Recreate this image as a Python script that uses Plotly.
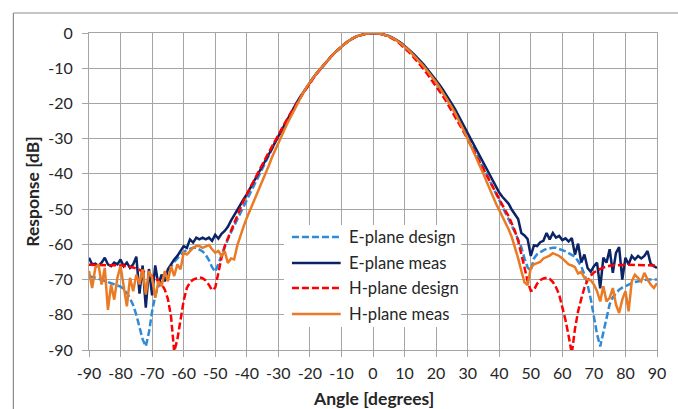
import plotly.graph_objects as go

# Angles in degrees, 1-degree steps
angles = list(range(-90, 91))

e_plane_design = [
    -69.0, -69.2, -69.5, -69.8, -70.1, -70.4, -70.7, -71.0, -71.3, -71.6,
    -72.0, -72.7, -73.8, -75.3, -77.3, -80.0, -83.5, -87.0, -89.0, -85.0,
    -79.0, -74.5, -72.0, -70.0, -68.8, -67.5, -66.2, -65.0, -64.0, -63.0,
    -62.2, -61.6, -61.2, -61.0, -61.0, -61.4, -62.0, -63.0, -64.5, -66.5,
    -67.8, -65.5, -63.0, -60.8, -58.6, -56.6, -54.7, -52.9, -51.1, -49.3,
    -47.5, -45.6, -43.8, -42.0, -40.1, -38.3, -36.5, -34.7, -32.9, -31.1,
    -29.3, -27.6, -25.9, -24.2, -22.6, -21.0, -19.5, -18.1, -16.7, -15.3,
    -14.0, -12.8, -11.6, -10.5, -9.4, -8.3, -7.3, -6.4, -5.5, -4.6,
    -3.8, -3.1, -2.4, -1.8, -1.3, -0.9, -0.58, -0.33, -0.15, -0.04,
    0.0,
    -0.04, -0.15, -0.33, -0.58, -0.9, -1.3, -1.8, -2.4, -3.1, -3.8,
    -4.6, -5.5, -6.4, -7.3, -8.3, -9.4, -10.5, -11.6, -12.8, -14.0,
    -15.3, -16.7, -18.1, -19.5, -21.0, -22.6, -24.2, -25.9, -27.6, -29.3,
    -31.1, -32.9, -34.7, -36.5, -38.3, -40.1, -42.0, -43.8, -45.6, -47.5,
    -49.3, -51.1, -52.9, -54.7, -56.6, -58.6, -60.8, -64.0, -66.5, -67.5,
    -64.0, -62.8, -62.2, -61.7, -61.3, -61.1, -61.0, -61.0, -61.3, -61.7,
    -62.0, -62.5, -63.0, -63.5, -64.8, -66.3, -68.5, -71.5, -75.5, -80.5,
    -85.5, -89.0, -85.0, -80.5, -77.0, -75.0, -73.8, -72.9, -72.3, -71.8,
    -71.4, -71.0, -70.7, -70.5, -70.3, -70.1, -70.0, -70.0, -70.0, -70.0,
]

e_plane_meas = [
    -63.8, -65.7, -65.5, -66.2, -65.2, -63.8, -65.7, -66.2, -65.2, -65.7,
    -64.3, -66.2, -65.2, -66.7, -65.7, -63.5, -74.0, -66.0, -78.0, -67.0,
    -74.5, -66.0, -71.5, -68.6, -70.5, -67.1, -65.7, -64.3, -63.3, -61.9,
    -60.5, -61.0, -58.6, -59.5, -58.1, -58.6, -58.1, -58.6, -58.1, -59.0,
    -57.3, -58.4, -57.0, -56.2, -55.0, -53.3, -51.7, -50.0, -48.6, -47.2,
    -45.8, -44.2, -42.6, -41.0, -39.4, -37.9, -36.2, -34.5, -32.8, -31.0,
    -29.3, -27.6, -25.9, -24.2, -22.6, -21.0, -19.5, -18.1, -16.7, -15.3,
    -14.0, -12.8, -11.6, -10.5, -9.4, -8.3, -7.3, -6.4, -5.5, -4.6,
    -3.8, -3.1, -2.4, -1.8, -1.3, -0.9, -0.58, -0.33, -0.15, -0.04,
    0.0,
    -0.04, -0.14, -0.31, -0.55, -0.86, -1.24, -1.7, -2.25, -2.9, -3.6,
    -4.4, -5.2, -6.1, -7.0, -7.9, -8.9, -10.0, -11.1, -12.2, -13.4,
    -14.6, -15.9, -17.2, -18.6, -20.1, -21.6, -23.2, -24.8, -26.5, -28.4,
    -30.1, -31.8, -33.5, -35.2, -37.0, -38.7, -40.4, -42.0, -43.7, -45.3,
    -46.5, -47.5, -48.5, -50.2, -51.5, -52.8, -56.8, -57.5, -58.5, -63.3,
    -60.3, -60.5, -59.4, -59.0, -56.8, -58.6, -56.8, -58.1, -57.6, -58.8,
    -58.3, -59.2, -58.2, -62.9, -59.8, -65.2, -62.9, -66.7, -67.8, -66.2,
    -65.2, -72.5, -63.8, -65.2, -61.4, -68.1, -62.4, -60.8, -70.0, -63.8,
    -65.7, -63.3, -64.3, -63.3, -64.0, -63.3, -61.9, -65.5, -66.2, -66.7,
]

h_plane_design = [
    -65.8, -65.8, -65.8, -65.8, -65.8, -65.9, -65.9, -65.9, -66.0, -66.0,
    -66.0, -66.1, -66.2, -66.4, -66.6, -66.9, -67.2, -67.6, -68.0, -68.5,
    -69.0, -69.6, -70.3, -71.3, -72.8, -75.5, -80.5, -90.5, -87.0, -81.0,
    -76.0, -72.4, -70.8, -70.0, -69.6, -69.4, -69.6, -70.3, -71.5, -73.0,
    -72.3, -68.0, -63.8, -60.5, -58.3, -56.0, -53.7, -51.5, -49.5, -47.6,
    -45.8, -44.0, -42.3, -40.6, -38.9, -37.2, -35.5, -33.8, -32.1, -30.5,
    -28.9, -27.3, -25.7, -24.1, -22.6, -21.1, -19.7, -18.3, -16.9, -15.6,
    -14.2, -12.9, -11.7, -10.6, -9.5, -8.4, -7.4, -6.4, -5.5, -4.6,
    -3.8, -3.1, -2.4, -1.8, -1.3, -0.9, -0.58, -0.33, -0.15, -0.04,
    0.0,
    -0.04, -0.16, -0.36, -0.64, -1.0, -1.45, -2.0, -2.65, -3.4, -4.2,
    -5.1, -6.0, -7.0, -8.0, -9.1, -10.2, -11.4, -12.6, -13.8, -15.0,
    -16.3, -17.7, -19.1, -20.6, -22.1, -23.6, -25.2, -26.8, -28.5, -30.2,
    -31.9, -33.6, -35.3, -37.0, -38.7, -40.5, -42.3, -44.1, -45.8, -47.5,
    -49.0, -50.5, -52.0, -54.0, -56.3, -59.0, -62.5, -66.5, -70.5, -73.2,
    -73.0, -71.2, -70.2, -69.7, -69.5, -69.8, -70.7, -72.2, -74.3, -77.5,
    -81.5, -86.0, -91.0, -84.0, -79.0, -75.5, -72.3, -70.2, -68.9, -68.0,
    -67.4, -67.0, -66.6, -66.3, -66.1, -66.0, -65.9, -65.8, -65.8, -65.8,
    -65.8, -65.8, -65.8, -65.8, -65.8, -65.9, -65.9, -66.0, -66.0, -66.1,
]

h_plane_meas = [
    -67.6, -72.4, -66.7, -65.7, -71.4, -66.7, -78.6, -71.4, -75.7, -69.5,
    -66.2, -72.4, -77.6, -69.5, -73.3, -68.6, -71.4, -67.1, -74.3, -67.6,
    -69.5, -75.2, -70.5, -71.9, -67.6, -70.5, -66.2, -69.0, -65.7, -67.1,
    -62.4, -62.9, -61.9, -61.0, -60.5, -60.5, -61.0, -60.5, -60.2, -61.4,
    -62.4, -61.9, -63.3, -61.9, -65.3, -64.0, -64.3, -60.3, -57.3, -54.9,
    -52.5, -50.4, -48.3, -46.3, -44.2, -42.2, -40.0, -37.6, -35.3, -33.2,
    -31.0, -29.2, -27.3, -25.4, -23.6, -21.8, -20.0, -18.4, -16.8, -15.3,
    -14.0, -12.8, -11.6, -10.5, -9.4, -8.3, -7.3, -6.4, -5.5, -4.6,
    -3.8, -3.1, -2.4, -1.8, -1.3, -0.9, -0.58, -0.33, -0.15, -0.04,
    0.0,
    -0.04, -0.15, -0.33, -0.58, -0.9, -1.3, -1.8, -2.4, -3.1, -3.8,
    -4.6, -5.5, -6.4, -7.3, -8.3, -9.4, -10.5, -11.6, -12.8, -14.0,
    -15.3, -16.7, -18.1, -19.6, -21.1, -22.7, -24.4, -26.2, -28.1, -30.0,
    -31.9, -33.8, -35.7, -37.8, -40.0, -42.2, -44.4, -46.5, -48.5, -50.3,
    -52.0, -54.0, -55.8, -58.0, -60.8, -64.0, -67.5, -70.8, -71.6, -66.7,
    -65.7, -65.4, -65.0, -64.0, -63.6, -63.2, -62.5, -62.8, -63.3, -64.0,
    -64.8, -65.7, -66.0, -66.5, -68.3, -67.8, -69.5, -70.0, -70.2, -71.4,
    -73.3, -76.2, -71.9, -76.2, -75.2, -72.4, -77.1, -79.5, -75.7, -73.3,
    -79.0, -70.5, -68.6, -69.5, -70.5, -68.1, -70.0, -71.4, -72.4, -71.0,
]

x_ticks = list(range(-90, 91, 10))
y_ticks = list(range(-90, 1, 10))
# Tick labels written with a plain hyphen-minus
x_tick_labels = [str(v) for v in x_ticks]
y_tick_labels = [str(v) for v in y_ticks]

series = [
    ("E-plane design", e_plane_design, "#2F8AD8", "7px,3px"),
    ("E-plane meas", e_plane_meas, "#0B2466", "solid"),
    ("H-plane design", h_plane_design, "#FF0000", "7px,3px"),
    ("H-plane meas", h_plane_meas, "#EB7A24", "solid"),
]

FONT = "Lato, 'Open Sans', sans-serif"
GRID = "#A5A5A5"
TEXT = "#262626"

fig = go.Figure()
for name, vals, color, dash in series:
    fig.add_trace(go.Scatter(
        x=angles, y=vals, mode="lines", name=name, showlegend=False,
        line=dict(color=color, width=2.5, dash=dash),
    ))

fig.update_layout(
    width=678, height=409,
    margin=dict(l=89, r=18, t=33, b=59),
    paper_bgcolor="white", plot_bgcolor="white",
    font=dict(family=FONT, size=16, color=TEXT),
)

axis_common = dict(
    showgrid=True, gridcolor=GRID, gridwidth=1,
    zeroline=False, showline=True, linecolor=GRID, linewidth=1, mirror=True,
    ticks="outside", ticklen=6, tickcolor=GRID, tickwidth=1,
    tickfont=dict(family=FONT, size=16, color=TEXT),
)
fig.update_xaxes(range=[-90, 90], tickvals=x_ticks, ticktext=x_tick_labels,
                 ticklabelstandoff=3, **axis_common)
fig.update_yaxes(range=[-90, 0], tickvals=y_ticks, ticktext=y_tick_labels,
                 ticklabelstandoff=6, **axis_common)

# Axis titles
fig.add_annotation(text="<b>Angle [degrees]</b>", xref="paper", yref="paper",
                   x=0.5, y=-0.153, xanchor="center", yanchor="middle",
                   showarrow=False, font=dict(family=FONT, size=17.5, color=TEXT))
fig.add_annotation(text="<b>Response [dB]</b>", xref="paper", yref="paper",
                   x=-0.1, y=0.5, xanchor="center", yanchor="middle",
                   textangle=-90, showarrow=False,
                   font=dict(family=FONT, size=17.5, color=TEXT))

# Chart-area frame (top and left edges)
fig.add_shape(type="line", xref="paper", yref="paper",
              x0=-0.1331, x1=1.2, y0=1.0631, y1=1.0631,
              line=dict(color="#8C8C8C", width=1.2))
fig.add_shape(type="line", xref="paper", yref="paper",
              x0=-0.1331, x1=-0.1331, y0=1.0631, y1=-0.3,
              line=dict(color="#8C8C8C", width=1.2))

# Legend panel
fig.add_shape(type="rect", xref="paper", yref="paper",
              x0=0.3433, x1=0.655, y0=0.0726, y1=0.3943,
              fillcolor="white", line=dict(width=0), layer="above")
legend_y = [0.3565, 0.2744, 0.1956, 0.1136]
for (name, _vals, color, dash), ly in zip(series, legend_y):
    fig.add_shape(type="line", xref="paper", yref="paper",
                  x0=0.3573, x1=0.4431, y0=ly, y1=ly, layer="above",
                  line=dict(color=color, width=2.5, dash=dash))
    fig.add_annotation(text=name, xref="paper", yref="paper",
                       x=0.4536, y=ly, xanchor="left", yanchor="middle",
                       showarrow=False, font=dict(family=FONT, size=16.6, color=TEXT))

fig.write_html("out.html")
